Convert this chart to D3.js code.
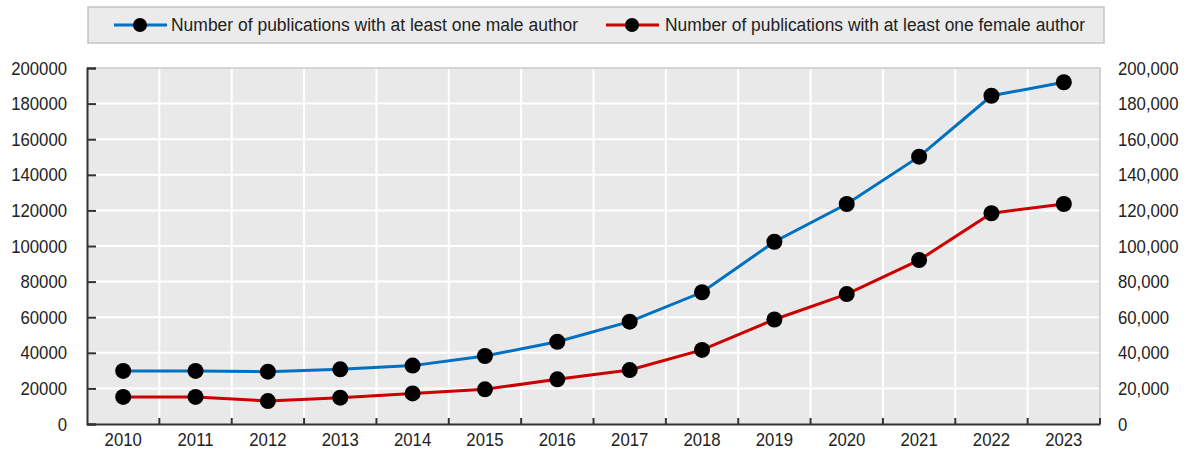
<!DOCTYPE html>
<html>
<head>
<meta charset="utf-8">
<script src="https://cdnjs.cloudflare.com/ajax/libs/d3/7.8.5/d3.min.js"></script>
<style>
  body { margin: 0; background: #fff; }
  text { font-family: "Liberation Sans", Arial, sans-serif; fill: #222; }
</style>
</head>
<body>
<div id="chart"></div>
<script>
// Chart data
var years = ["2010", "2011", "2012", "2013", "2014", "2015", "2016", "2017", "2018", "2019", "2020", "2021", "2022", "2023"];
var maleAuthor = [29800, 29800, 29400, 30700, 32800, 38200, 46200, 57500, 74000, 102400, 123600, 150200, 184400, 192000];
var femaleAuthor = [15200, 15200, 12900, 14800, 17200, 19500, 25100, 30300, 41600, 58700, 73000, 92100, 118400, 123600];
var yTicks = [0, 20000, 40000, 60000, 80000, 100000, 120000, 140000, 160000, 180000, 200000];
var seriesNames = ["Number of publications with at least one male author", "Number of publications with at least one female author"];

// Chart Params
var svgWidth = 1189;
var svgHeight = 452;
var margin = { top: 68, right: 89, bottom: 28, left: 87 };
var width = svgWidth - margin.left - margin.right;
var height = svgHeight - margin.top - margin.bottom;

var colors = ["#0070c0", "#cc0000"];

var svg = d3.select("#chart")
    .append("svg")
    .attr("width", svgWidth)
    .attr("height", svgHeight);

var chartGroup = svg.append("g")
    .attr("transform", `translate(${margin.left}, ${margin.top})`);

var x = d3.scaleBand()
    .domain(years)
    .range([0, width])
    .padding(0);

var y = d3.scaleLinear()
    .domain([0, 200000])
    .range([height, 0]);

// squeeze tick labels a bit, the original uses a narrow font
function narrow(sel) {
    sel.each(function() {
        var len = this.getComputedTextLength();
        d3.select(this)
            .attr("textLength", len * 0.88)
            .attr("lengthAdjust", "spacingAndGlyphs");
    });
}

// plot background
chartGroup.append("rect")
    .attr("width", width)
    .attr("height", height)
    .attr("fill", "#e9e9e9");

// horizontal gridlines
chartGroup.selectAll(".hgrid")
    .data(yTicks.slice(1))
    .enter()
    .append("line")
    .attr("x1", 0)
    .attr("x2", width)
    .attr("y1", d => y(d))
    .attr("y2", d => y(d))
    .attr("stroke", "#fff")
    .attr("stroke-width", 2);

// vertical gridlines at category boundaries
chartGroup.selectAll(".vgrid")
    .data(years.slice(1))
    .enter()
    .append("line")
    .attr("x1", d => x(d))
    .attr("x2", d => x(d))
    .attr("y1", 0)
    .attr("y2", height)
    .attr("stroke", "#fff")
    .attr("stroke-width", 2);

// top and right border
chartGroup.append("path")
    .attr("d", `M0,0H${width}V${height}`)
    .attr("fill", "none")
    .attr("stroke", "#c8c8c8")
    .attr("stroke-width", 1.5);

// left axis
var leftAxis = d3.axisLeft(y)
    .tickValues(yTicks)
    .tickSize(-9)
    .tickPadding(20)
    .tickFormat(d3.format("d"));
var leftG = chartGroup.append("g").call(leftAxis);
leftG.select(".domain").attr("stroke", "#333").attr("stroke-width", 2);
leftG.selectAll(".tick line").attr("stroke", "#333").attr("stroke-width", 2);
leftG.selectAll(".tick text").attr("font-size", "19px").attr("fill", "#222").call(narrow);

// right axis labels only
var rightAxis = d3.axisRight(y)
    .tickValues(yTicks)
    .tickSize(0)
    .tickPadding(18)
    .tickFormat(d3.format(","));
var rightG = chartGroup.append("g")
    .attr("transform", `translate(${width}, 0)`)
    .call(rightAxis);
rightG.select(".domain").remove();
rightG.selectAll(".tick text").attr("font-size", "19px").attr("fill", "#222").call(narrow);

// bottom axis: ticks at category boundaries
var boundaries = years.map(d => x(d) + x.bandwidth());
chartGroup.selectAll(".xtick")
    .data(boundaries)
    .enter()
    .append("line")
    .attr("x1", d => d)
    .attr("x2", d => d)
    .attr("y1", height)
    .attr("y2", height - 6)
    .attr("stroke", "#333")
    .attr("stroke-width", 2);

var bottomAxis = d3.axisBottom(x).tickSize(0).tickPadding(9);
var bottomG = chartGroup.append("g")
    .attr("transform", `translate(0, ${height})`)
    .call(bottomAxis);
bottomG.select(".domain").attr("stroke", "#333").attr("stroke-width", 2);
bottomG.selectAll(".tick text").attr("font-size", "19px").attr("fill", "#222").call(narrow);

// lines and dots
var line = d3.line()
    .x((d, i) => x(years[i]) + x.bandwidth() / 2)
    .y(d => y(d));

[maleAuthor, femaleAuthor].forEach(function(series, s) {
    chartGroup.append("path")
        .datum(series)
        .attr("d", line)
        .attr("fill", "none")
        .attr("stroke", colors[s])
        .attr("stroke-width", 3);

    chartGroup.selectAll(".dot" + s)
        .data(series)
        .enter()
        .append("circle")
        .attr("cx", (d, i) => x(years[i]) + x.bandwidth() / 2)
        .attr("cy", d => y(d))
        .attr("r", 8)
        .attr("fill", "#000");
});

// legend
var legend = svg.append("g");
legend.append("rect")
    .attr("x", 88)
    .attr("y", 7)
    .attr("width", 1016)
    .attr("height", 36)
    .attr("fill", "#ebebeb")
    .attr("stroke", "#c4c4c4")
    .attr("stroke-width", 1.5);

var legendItems = [
    { x0: 114, textX: 171, textLen: 407 },
    { x0: 606, textX: 665, textLen: 420 }
];
legendItems.forEach(function(item, s) {
    legend.append("line")
        .attr("x1", item.x0)
        .attr("x2", item.x0 + 53)
        .attr("y1", 25)
        .attr("y2", 25)
        .attr("stroke", colors[s])
        .attr("stroke-width", 3);
    legend.append("circle")
        .attr("cx", item.x0 + 26)
        .attr("cy", 25)
        .attr("r", 7)
        .attr("fill", "#000");
    legend.append("text")
        .attr("x", item.textX)
        .attr("y", 25)
        .attr("dy", "0.35em")
        .attr("font-size", "18px")
        .attr("textLength", item.textLen)
        .attr("lengthAdjust", "spacingAndGlyphs")
        .text(seriesNames[s]);
});
</script>
</body>
</html>
